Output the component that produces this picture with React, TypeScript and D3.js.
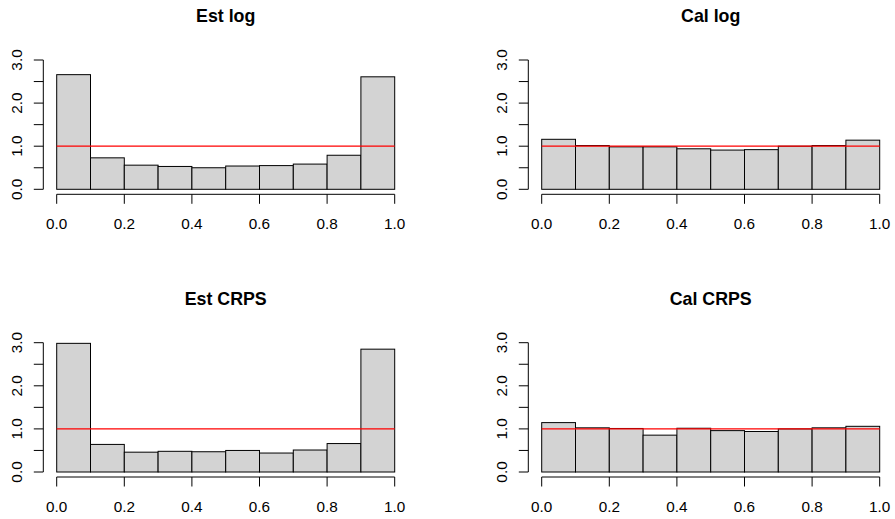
import React from "react";
import * as d3 from "d3";

// Histogram bin breaks on [0, 1]
const breaks = [0, 0.1, 0.2, 0.3, 0.4, 0.5, 0.6, 0.7, 0.8, 0.9, 1.0];

// Densities per bin for each panel
const estLog = [2.66, 0.73, 0.56, 0.53, 0.5, 0.54, 0.55, 0.585, 0.79, 2.61];
const calLog = [1.16, 1.015, 0.985, 0.985, 0.94, 0.91, 0.92, 1.0, 1.015, 1.14];
const estCrps = [2.985, 0.64, 0.46, 0.48, 0.47, 0.5, 0.44, 0.51, 0.66, 2.85];
const calCrps = [1.146, 1.025, 1.01, 0.855, 1.015, 0.96, 0.94, 1.0, 1.025, 1.06];

const titles = ["Est log", "Cal log", "Est CRPS", "Cal CRPS"];

const xTicks = [0, 0.2, 0.4, 0.6, 0.8, 1.0];
const yTicks = [0, 0.5, 1, 1.5, 2, 2.5, 3];
const yLabelTicks = [0, 1, 2, 3];
const refLevel = 1;

const W = 895;
const H = 519;
const FONT = "'Liberation Sans', Arial, Helvetica, sans-serif";

interface PanelProps {
  title: string;
  values: number[];
  left: number;
  top: number;
}

function Panel({ title, values, left, top }: PanelProps) {
  // plot area in pixel coordinates
  const x = d3.scaleLinear().domain([0, 1]).range([left + 56.7, left + 394.7]);
  const y = d3.scaleLinear().domain([0, 3]).range([top + 189.3, top + 60]);
  const axisX = left + 43.3;
  const axisY = top + 194.3;
  const tick = 9.5;

  return (
    <g>
      <text
        x={(x(0) + x(1)) / 2}
        y={top + 22}
        textAnchor="middle"
        fontFamily={FONT}
        fontWeight="bold"
        fontSize={17.8}
        fill="#000"
      >
        {title}
      </text>

      {values.map((v, i) => (
        <rect
          key={i}
          x={x(breaks[i])}
          y={y(v)}
          width={x(breaks[i + 1]) - x(breaks[i])}
          height={y(0) - y(v)}
          fill="#d3d3d3"
          stroke="#000"
          strokeWidth={1}
        />
      ))}

      <line
        x1={x(0)}
        x2={x(1)}
        y1={y(refLevel)}
        y2={y(refLevel)}
        stroke="#ff0000"
        strokeWidth={1.2}
      />

      {/* x axis */}
      <line x1={x(0)} x2={x(1)} y1={axisY} y2={axisY} stroke="#000" strokeWidth={1} />
      {xTicks.map((t) => (
        <g key={t}>
          <line x1={x(t)} x2={x(t)} y1={axisY} y2={axisY + tick} stroke="#000" strokeWidth={1} />
          <text
            x={x(t)}
            y={top + 229.3}
            textAnchor="middle"
            fontFamily={FONT}
            fontSize={15.3}
            fill="#000"
          >
            {t.toFixed(1)}
          </text>
        </g>
      ))}

      {/* y axis */}
      <line x1={axisX} x2={axisX} y1={y(0)} y2={y(3)} stroke="#000" strokeWidth={1} />
      {yTicks.map((t) => (
        <line key={t} x1={axisX - tick} x2={axisX} y1={y(t)} y2={y(t)} stroke="#000" strokeWidth={1} />
      ))}
      {yLabelTicks.map((t) => (
        <text
          key={t}
          transform={`translate(${axisX - 21.8},${y(t)}) rotate(-90)`}
          textAnchor="middle"
          fontFamily={FONT}
          fontSize={15.3}
          fill="#000"
        >
          {t.toFixed(1)}
        </text>
      ))}
    </g>
  );
}

export default function App() {
  const panels = [
    { title: titles[0], values: estLog, left: 0, top: 0 },
    { title: titles[1], values: calLog, left: 485, top: 0 },
    { title: titles[2], values: estCrps, left: 0, top: 282.7 },
    { title: titles[3], values: calCrps, left: 485, top: 282.7 },
  ];
  return (
    <svg
      width={W}
      height={H}
      viewBox={`0 0 ${W} ${H}`}
      style={{ position: "absolute", left: 0, top: 0, background: "#fff" }}
    >
      <rect x={0} y={0} width={W} height={H} fill="#fff" />
      {panels.map((p) => (
        <Panel key={p.title} {...p} />
      ))}
    </svg>
  );
}
